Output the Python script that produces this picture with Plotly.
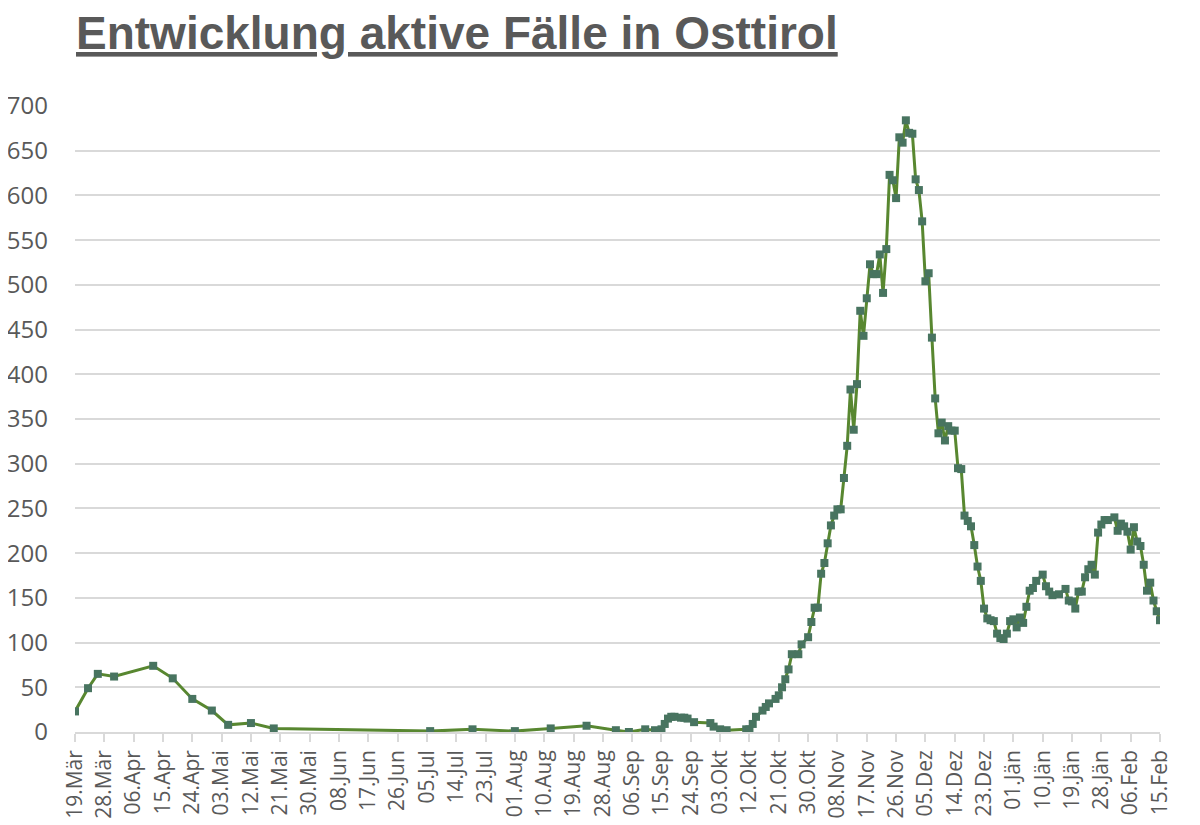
import pandas as pd
import plotly.graph_objects as go

GREY_TEXT = 'rgb(89, 89, 89)'
GRID = 'rgb(217, 217, 217)'
LINE_GREEN = 'rgb(88, 135, 48)'
MARKER_GREEN = 'rgb(72, 116, 96)'
FONT = 'Open Sans'

# days since 19.03.2020 and active cases
START = '2020-03-19'
day = [0, 4, 7, 12, 24, 30, 36, 42, 47, 54, 61, 109, 122, 135, 146, 157,
       166, 170, 175, 178, 180, 181, 182, 183, 184, 186, 187, 188, 190, 195,
       196, 198, 200, 206,
       207, 208, 209, 211, 212, 213, 215, 216, 217, 218, 219, 220, 222, 223,
       225, 226, 227, 228, 229, 230, 231, 232, 233, 234, 235, 236, 237, 238,
       239, 240, 241, 242, 243, 244, 245, 246, 247, 248, 249, 250, 251, 252,
       253, 254, 255, 256, 257, 258, 259, 260, 261, 262, 263, 264, 265, 266,
       267, 268, 269, 270, 271, 272, 273, 274, 275, 276, 277, 278, 279, 280,
       281, 282, 283, 284, 285, 286, 287, 288, 289, 290, 291, 292, 293, 294,
       295, 297, 298, 299, 300, 302, 304, 305, 306, 307, 308, 309, 310, 311,
       312, 313, 314, 315, 316, 317, 319, 320, 321, 322, 323, 324, 325, 326,
       327, 328, 329, 330, 331, 332, 333]
active = [23, 49, 65, 62, 74, 60, 37, 24, 8, 10, 4, 1, 3, 1, 4, 7,
          2, 0, 3, 2, 3, 9, 15, 17, 17, 16, 16, 15, 11, 10,
          6, 3, 2, 3,
          3, 9, 17, 24, 28, 32, 37, 41, 50, 59, 70, 87, 87, 98,
          106, 123, 139, 139, 177, 189, 211, 231, 242, 249, 249, 284, 320, 383,
          338, 389, 471, 443, 485, 523, 512, 512, 534, 491, 540, 623, 617, 597,
          665, 659, 684, 670, 669, 618, 606, 571, 504, 513, 441, 373, 334, 346,
          326, 342, 337, 337, 295, 294, 242, 236, 230, 209, 185, 169, 138, 127,
          125, 124, 110, 105, 104, 110, 124, 126, 117, 128, 122, 140, 158, 161,
          169, 176, 163, 157, 153, 154, 160, 147, 146, 138, 157, 157, 173, 182,
          187, 176, 223, 232, 237, 237, 240, 225, 233, 230, 224, 204, 229, 213,
          208, 187, 158, 167, 147, 135, 125]

tick_labels = ['19.Mär', '28.Mär', '06.Apr', '15.Apr', '24.Apr', '03.Mai', '12.Mai',
               '21.Mai', '30.Mai', '08.Jun', '17.Jun', '26.Jun', '05.Jul', '14.Jul',
               '23.Jul', '01.Aug', '10.Aug', '19.Aug', '28.Aug', '06.Sep', '15.Sep',
               '24.Sep', '03.Okt', '12.Okt', '21.Okt', '30.Okt', '08.Nov', '17.Nov',
               '26.Nov', '05.Dez', '14.Dez', '23.Dez', '01.Jän', '10.Jän', '19.Jän',
               '28.Jän', '06.Feb', '15.Feb']
y_ticks = list(range(0, 701, 50))

dates = pd.Timestamp(START) + pd.to_timedelta(day, unit='D')
tick_dates = pd.date_range(START, periods=len(tick_labels), freq='9D')

fig = go.Figure()
fig.add_trace(go.Scatter(
    x=dates, y=active,
    mode='lines+markers',
    line=dict(color=LINE_GREEN, width=3),
    marker=dict(symbol='square', size=8, color=MARKER_GREEN, line=dict(width=0)),
    showlegend=False,
))

fig.update_layout(
    width=1200, height=825,
    margin=dict(l=67, r=48, t=98, b=101),
    plot_bgcolor='white', paper_bgcolor='white',
    font=dict(family=FONT, color=GREY_TEXT),
)

# title, bold + underlined
fig.add_annotation(
    text='<b>Entwicklung aktive Fälle in Osttirol</b>',
    xref='paper', yref='paper', x=0.0, y=1.0, yshift=100,
    xanchor='left', yanchor='top', showarrow=False, borderpad=0,
    font=dict(family='Liberation Sans', size=46, color=GREY_TEXT, lineposition='under'),
)

# thin frame on the left edge
fig.add_shape(type='line', xref='paper', yref='paper',
              x0=-0.0675, x1=-0.0675, y0=-0.2, y1=1.25,
              line=dict(color=GRID, width=2))

fig.update_xaxes(
    range=[tick_dates[0], tick_dates[-1]],
    tickvals=tick_dates, ticktext=tick_labels,
    tickangle=-90,
    tickfont=dict(family=FONT, size=21, color=GREY_TEXT),
    showgrid=False, zeroline=False,
    showline=True, linecolor=GRID, linewidth=1.5,
    ticks='outside', ticklen=8, tickcolor=GRID, tickwidth=1.5,
    automargin=False,
)
fig.update_yaxes(
    range=[0, 700],
    tickvals=y_ticks,
    tickfont=dict(family=FONT, size=24, color=GREY_TEXT),
    showgrid=True, gridcolor=GRID, gridwidth=1.5,
    zeroline=False, showline=False,
    ticklabelstandoff=26,
    automargin=False,
)

fig.write_html('out.html')
